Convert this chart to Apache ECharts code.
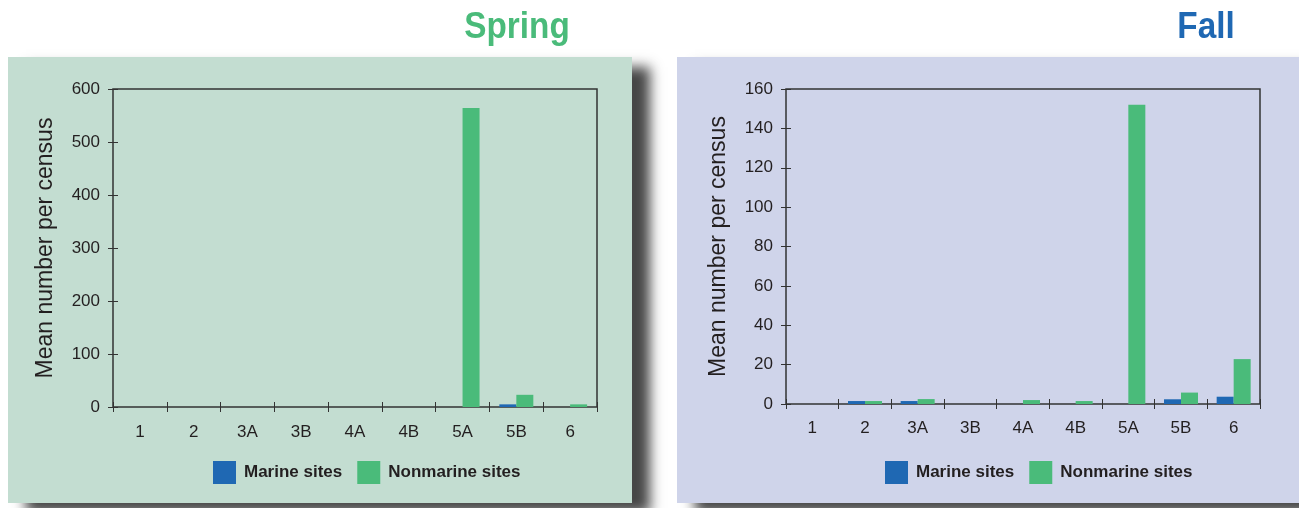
<!DOCTYPE html>
<html><head><meta charset="utf-8">
<script src="https://cdn.jsdelivr.net/npm/echarts@6/dist/echarts.min.js"></script>
<style>html,body{margin:0;padding:0;background:#fff}#c{width:1299px;height:508px}</style>
</head><body><div id="c"></div>
<script>
const categories = ['1','2','3A','3B','4A','4B','5A','5B','6'];
const springMarine    = [0, 0, 0, 0, 0, 0, 0, 5, 0];
const springNonmarine = [0, 0, 0, 0, 0, 0, 564, 23, 5];
const fallMarine      = [0, 1.5, 1.5, 0, 0, 0, 0, 2.4, 3.7];
const fallNonmarine   = [0, 1.5, 2.5, 0, 2, 1.5, 152, 5.8, 22.8];
const springTicks = {min: 0, max: 600, interval: 100};
const fallTicks = {min: 0, max: 160, interval: 20};
const seriesNames = ['Marine sites', 'Nonmarine sites'];
const panelTitles = ['Spring', 'Fall'];

const BLUE = '#1f68b3', GREEN = '#4abb7a', TXT = '#231f20';
const FONT = "'Liberation Sans', Arial, sans-serif";
const chart = echarts.init(document.getElementById('c'), null, {renderer: 'canvas'});

function xAx(gi, margin) {
  return {
    type: 'category', gridIndex: gi, data: categories, offset: -5,
    axisLine: {show: false},
    axisTick: {show: true, length: 10, lineStyle: {color: '#333', width: 1}},
    axisLabel: {color: TXT, fontSize: 17, fontFamily: FONT, margin: margin}
  };
}
function yAx(gi, t) {
  return {
    type: 'value', gridIndex: gi, min: t.min, max: t.max, interval: t.interval, offset: -5,
    name: 'Mean number per census', nameLocation: 'middle', nameGap: 61,
    nameTextStyle: {color: TXT, fontSize: 23, fontFamily: FONT},
    axisLine: {show: false},
    axisTick: {show: true, length: 10, lineStyle: {color: '#333', width: 1}},
    splitLine: {show: false},
    axisLabel: {color: TXT, fontSize: 17, fontFamily: FONT, margin: 18}
  };
}
function bar(name, data, color, gi) {
  return {type: 'bar', name: name, data: data, xAxisIndex: gi, yAxisIndex: gi,
    barWidth: 17, barGap: '0%', itemStyle: {color: color}};
}
function legend(left) {
  return {left: left, top: 461, padding: 0, icon: 'rect', itemWidth: 23, itemHeight: 23, itemGap: 15,
    data: seriesNames,
    textStyle: {color: TXT, fontSize: 17, fontWeight: 'bold', fontFamily: FONT, padding: [3, 0, 0, 3]}};
}
function titleText(text, x, color) {
  return {type: 'text', x: x, y: 9, scaleX: 0.9, z: 10,
    style: {text: text, fill: color, font: "bold 37px 'Liberation Sans', Arial, sans-serif",
      textAlign: 'center', textVerticalAlign: 'top', align: 'center', verticalAlign: 'top'}};
}

chart.setOption({
  animation: false,
  graphic: [
    {type: 'rect', z: -10, shape: {x: 8, y: 57, width: 624, height: 446},
     style: {fill: '#c3ddd1', shadowBlur: 12, shadowOffsetX: 18, shadowOffsetY: 10, shadowColor: 'rgba(60,60,60,0.95)'}},
    {type: 'rect', z: -10, shape: {x: 677, y: 57, width: 640, height: 446},
     style: {fill: '#cfd4ea', shadowBlur: 12, shadowOffsetX: 18, shadowOffsetY: 10, shadowColor: 'rgba(60,60,60,0.95)'}},
    titleText(panelTitles[0], 517, GREEN),
    titleText(panelTitles[1], 1206, BLUE)
  ],
  legend: [legend(213), legend(885)],
  grid: [
    {left: 113, top: 89, width: 484, height: 318, show: true, borderColor: '#333', borderWidth: 1.5, backgroundColor: 'transparent'},
    {left: 786, top: 89, width: 474, height: 315, show: true, borderColor: '#333', borderWidth: 1.5, backgroundColor: 'transparent'}
  ],
  xAxis: [xAx(0, 22), xAx(1, 21)],
  yAxis: [yAx(0, springTicks), yAx(1, fallTicks)],
  series: [
    bar(seriesNames[0], springMarine, BLUE, 0),
    bar(seriesNames[1], springNonmarine, GREEN, 0),
    bar(seriesNames[0], fallMarine, BLUE, 1),
    bar(seriesNames[1], fallNonmarine, GREEN, 1)
  ]
});
</script></body></html>
